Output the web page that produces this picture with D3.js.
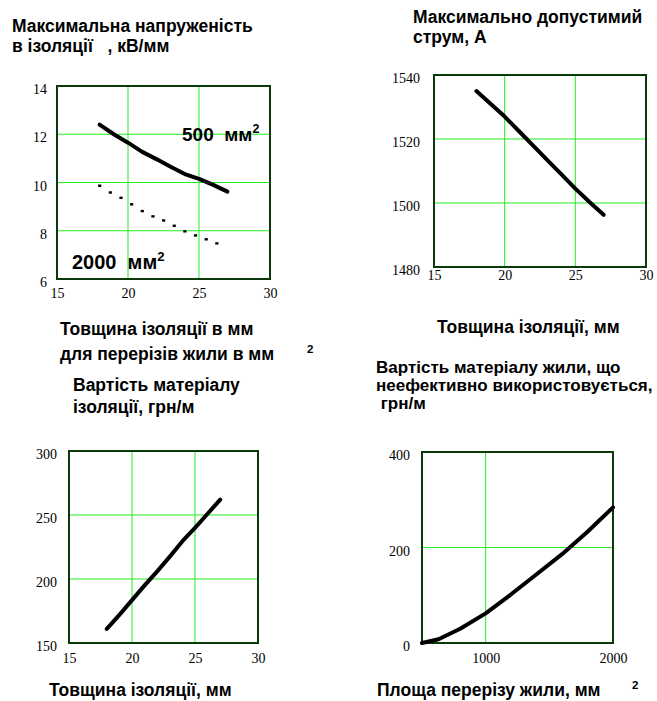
<!DOCTYPE html>
<html>
<head>
<meta charset="utf-8">
<script src="https://cdn.jsdelivr.net/npm/d3@7"></script>
<style>
  body { margin: 0; background: #fff; }
  svg { display: block; }
  .lbl { font-family: Arial, "Liberation Sans", sans-serif; font-weight: bold; fill: #000; white-space: pre; }
</style>
</head>
<body>
<div id="chart"></div>
<script>
// Insulation thickness, mm
const thickness = [18, 19, 20, 21, 22, 23, 24, 25, 26, 27];

// Max field strength in insulation, kV/mm
const stress500 = [12.4, 12.0, 11.65, 11.27, 10.97, 10.65, 10.35, 10.15, 9.9, 9.62];
const thickness2000 = [18, 18.75, 19.5, 20.25, 21, 21.75, 22.5, 23.25, 24, 24.75, 25.5, 26.25];
const stress2000 = [9.87, 9.59, 9.37, 9.1, 8.82, 8.6, 8.43, 8.21, 7.98, 7.81, 7.65, 7.48];

// Max permissible current, A
const current = [1535, 1531, 1527, 1522.5, 1518, 1513.5, 1509, 1504.5, 1500.3, 1496.3];

// Insulation material cost, UAH/m
const insulCost = [161, 172, 183.5, 195, 206, 217.5, 229.5, 240, 251, 262];

// Cost of ineffectively used conductor material vs cross-section
const section = [500, 630, 800, 1000, 1200, 1400, 1600, 1800, 2000];
const conductorCost = [0, 8, 30, 62, 102, 144, 186, 233, 284];

const thickTicks = [15, 20, 25, 30];
const stressTicks = [6, 8, 10, 12, 14];
const currentTicks = [1480, 1500, 1520, 1540];
const costTicks = [150, 200, 250, 300];
const sectionTicks = [1000, 2000];
const conductorTicks = [0, 200, 400];

const W = 657, H = 701;
const svg = d3.select("#chart").append("svg").attr("width", W).attr("height", H);

const GRID = "#22ee22";
const FRAME = "#0a3a0a";
const SERIF = "Liberation Serif, Times New Roman, serif";

function panel(o) {
  const x = d3.scaleLinear().domain(o.xDomain).range([o.left, o.right]);
  const y = d3.scaleLinear().domain(o.yDomain).range([o.bottom, o.top]);
  const g = svg.append("g");

  // grid lines
  g.selectAll(".gx").data(o.xGrid).enter().append("line")
    .attr("x1", d => x(d)).attr("x2", d => x(d))
    .attr("y1", o.top).attr("y2", o.bottom)
    .attr("stroke", GRID).attr("stroke-width", 1);
  g.selectAll(".gy").data(o.yGrid).enter().append("line")
    .attr("y1", d => y(d)).attr("y2", d => y(d))
    .attr("x1", o.left).attr("x2", o.right)
    .attr("stroke", GRID).attr("stroke-width", 1);

  // axes (labels only)
  const ax = g.append("g").attr("transform", `translate(0,${o.bottom})`)
    .call(d3.axisBottom(x).tickValues(o.xTicks).tickSize(0).tickPadding(o.xPad).tickFormat(d3.format("d")));
  const ay = g.append("g").attr("transform", `translate(${o.left},0)`)
    .call(d3.axisLeft(y).tickValues(o.yTicks).tickSize(0).tickPadding(o.yPad).tickFormat(d3.format("d")));
  [ax, ay].forEach(a => {
    a.select(".domain").remove();
    a.attr("font-family", SERIF).attr("font-size", 14);
    a.selectAll("text")
      .style("font-family", SERIF)
      .style("font-size", "14px")
      .style("fill", "#000");
  });
  ay.selectAll("text").attr("dy", "0.55em");

  // frame
  g.append("rect")
    .attr("x", o.left).attr("y", o.top)
    .attr("width", o.right - o.left).attr("height", o.bottom - o.top)
    .attr("fill", "none").attr("stroke", FRAME).attr("stroke-width", 2);

  return { g, x, y };
}

function curve(p, xs, ys) {
  const line = d3.line().x((d, i) => p.x(xs[i])).y(d => p.y(d));
  return p.g.append("path")
    .datum(ys)
    .attr("d", line)
    .attr("fill", "none")
    .attr("stroke", "#000")
    .attr("stroke-width", 4)
    .attr("stroke-linejoin", "round")
    .attr("stroke-linecap", "round");
}

// dotted curve: one small dot per sample
function dots(p, xs, ys) {
  p.g.selectAll(".dot").data(ys).enter().append("rect")
    .attr("x", (d, i) => p.x(xs[i]) - 1.5)
    .attr("y", d => p.y(d) - 1.1)
    .attr("width", 3.2).attr("height", 2.4)
    .attr("fill", "#000");
}

function label(x, y, txt, size) {
  return svg.append("text").attr("class", "lbl")
    .attr("x", x).attr("y", y)
    .attr("font-size", size)
    .text(txt);
}

function labelSup(x, y, txt, size, sup) {
  const t = label(x, y, txt, size);
  t.append("tspan").attr("dy", -size * 0.42).attr("font-size", size * 0.66).text(sup);
  return t;
}

// --- panel 1: field strength
const p1 = panel({
  left: 57, right: 270, top: 86, bottom: 279,
  xDomain: [15, 30], yDomain: [6, 14],
  xGrid: [20, 25], yGrid: [8, 10, 12],
  xTicks: thickTicks, yTicks: stressTicks, xPad: 9, yPad: 10
});
curve(p1, thickness, stress500);
dots(p1, thickness2000, stress2000);
labelSup(182, 141, "500  мм", 19, "2");
labelSup(72, 269, "2000  мм", 20, "2");

// --- panel 2: current
const p2 = panel({
  left: 434, right: 646, top: 75, bottom: 267,
  xDomain: [15, 30], yDomain: [1480, 1540],
  xGrid: [20, 25], yGrid: [1500, 1520],
  xTicks: thickTicks, yTicks: currentTicks, xPad: 3, yPad: 14
});
curve(p2, thickness, current);

// --- panel 3: insulation cost
const p3 = panel({
  left: 69, right: 258, top: 451, bottom: 643,
  xDomain: [15, 30], yDomain: [150, 300],
  xGrid: [20, 25], yGrid: [200, 250],
  xTicks: thickTicks, yTicks: costTicks, xPad: 10, yPad: 12
});
curve(p3, thickness, insulCost);

// --- panel 4: conductor cost
const p4 = panel({
  left: 422, right: 613, top: 452, bottom: 643,
  xDomain: [500, 2000], yDomain: [0, 400],
  xGrid: [1000], yGrid: [200],
  xTicks: sectionTicks, yTicks: conductorTicks, xPad: 10, yPad: 12
});
curve(p4, section, conductorCost);

// --- titles
const F = 17.5;
label(12, 32, "Максимальна напруженість", F);
label(12, 52, "в ізоляції   , кВ/мм", F);
label(413, 23, "Максимально допустимий", F);
label(413, 43, "струм, А", F);

label(60, 335, "Товщина ізоляції в мм", F);
label(60, 360, "для перерізів жили в мм", F);
label(307, 353, "2", 11.5);
label(437, 333, "Товщина ізоляції, мм", F);

label(73, 391, "Вартість матеріалу", F);
label(73, 413, "ізоляції, грн/м", F);
label(376, 373, "Вартість матеріалу жили, що", 17);
label(376, 391, "неефективно використовується,", 17);
label(376, 409, " грн/м", 17);

label(49, 696, "Товщина ізоляції, мм", F);
label(377, 696, "Площа перерізу жили, мм", F);
label(632, 689, "2", 11.5);
</script>
</body>
</html>
